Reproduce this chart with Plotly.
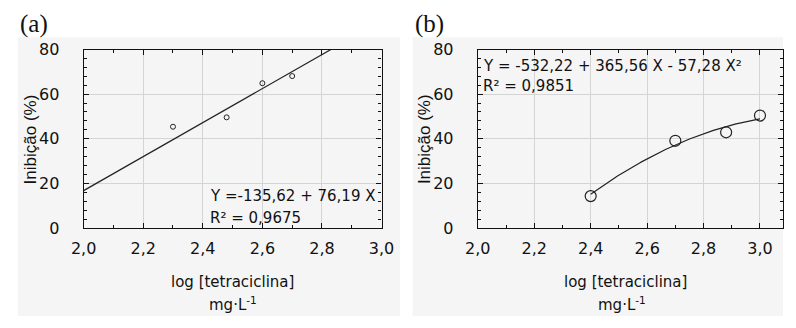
import numpy as np
import plotly.graph_objects as go

# Panel (a) data
xa = [2.30, 2.48, 2.60, 2.70]
ya = [45.4, 49.6, 64.9, 68.1]
coef_a = [-135.62, 76.19]          # Y = a0 + a1 X
# Panel (b) data
xb = [2.40, 2.70, 2.88, 3.00]
yb = [14.3, 39.1, 42.9, 50.4]
coef_b = [-532.22, 365.56, -57.28]  # Y = b0 + b1 X + b2 X^2

xticks = [2.0, 2.2, 2.4, 2.6, 2.8, 3.0]
xtick_labels = ["2,0", "2,2", "2,4", "2,6", "2,8", "3,0"]
yticks = [0, 20, 40, 60, 80]

eq_a = ["Y =-135,62 + 76,19 X", "R² = 0,9675"]
eq_b = ["Y = -532,22 + 365,56 X - 57,28 X²", "R² = 0,9851"]
xtitle = "log [tetraciclina]"
xunit = "mg·L<sup>-1</sup>"
ytitle = "Inibição (%)"

W, H = 796, 328
fig = go.Figure()

# fit lines
xl = np.linspace(2.0, 3.0, 201)
yl = coef_a[0] + coef_a[1] * xl
fig.add_trace(go.Scatter(x=xl, y=yl, mode="lines", line=dict(color="#222", width=1.2),
                         xaxis="x", yaxis="y", showlegend=False, hoverinfo="skip"))
xq = np.linspace(min(xb), max(xb), 121)
yq = coef_b[0] + coef_b[1] * xq + coef_b[2] * xq ** 2
fig.add_trace(go.Scatter(x=xq, y=yq, mode="lines", line=dict(color="#222", width=1.2),
                         xaxis="x2", yaxis="y2", showlegend=False, hoverinfo="skip"))
# points
fig.add_trace(go.Scatter(x=xa, y=ya, mode="markers",
                         marker=dict(symbol="circle-open", size=5, color="#222", line=dict(width=1)),
                         xaxis="x", yaxis="y", showlegend=False))
fig.add_trace(go.Scatter(x=xb, y=yb, mode="markers",
                         marker=dict(symbol="circle-open", size=11, color="#222", line=dict(width=1.2)),
                         xaxis="x2", yaxis="y2", showlegend=False))

def px_x(p):
    return p / W

def px_y(p):
    return 1 - p / H

tickfont = dict(family="DejaVu Sans", size=16, color="#111")
common_x = dict(tickvals=xticks, ticktext=xtick_labels, showgrid=True, gridcolor="#d4d4d4",
                gridwidth=1, zeroline=False, showline=True, linecolor="#111", linewidth=1.2,
                mirror="ticks", ticks="inside", ticklen=5, tickcolor="#111", tickfont=tickfont,
                ticklabelstandoff=6,
                minor=dict(dtick=0.1, ticks="inside", ticklen=3, tickcolor="#111", showgrid=False),
                fixedrange=True)
common_y = dict(tickvals=yticks, range=[0, 80], showgrid=True, gridcolor="#d4d4d4", gridwidth=1,
                zeroline=False, showline=True, linecolor="#111", linewidth=1.2, mirror="ticks",
                ticks="inside", ticklen=5, tickcolor="#111", tickfont=tickfont,
                ticklabelstandoff=20,
                minor=dict(dtick=4, ticks="inside", ticklen=3, tickcolor="#111", showgrid=False),
                fixedrange=True)

ytop, ybot = px_y(43), px_y(232.5)
fig.update_layout(
    width=W, height=H, margin=dict(l=0, r=0, t=0, b=0),
    paper_bgcolor="white", plot_bgcolor="white", showlegend=False,
    xaxis=dict(domain=[px_x(73), px_x(381)], range=[2.0, 3.0], anchor="y", **common_x),
    yaxis=dict(domain=[ybot, ytop], anchor="x", **common_y),
    xaxis2=dict(domain=[px_x(480.5), 1.0], range=[2.0, 2.0 + (796 - 480.5) / 291.7 * 1.0], anchor="y2", **common_x),
    yaxis2=dict(domain=[ybot, ytop], anchor="x2", **common_y),
)

# grey panel backgrounds
for x0, x1 in [(5, 400), (413, 796)]:
    fig.add_shape(type="rect", xref="paper", yref="paper", x0=px_x(x0), x1=px_x(x1),
                  y0=px_y(326), y1=px_y(30), fillcolor="#f5f5f5", line=dict(width=0), layer="below")

ann = []
txt = dict(family="DejaVu Sans", size=15, color="#111")
# panel labels
ann.append(dict(text="(a)", x=px_x(5), y=px_y(16), xanchor="left", yanchor="middle",
                font=dict(family="Liberation Serif", size=25, color="#111")))
ann.append(dict(text="(b)", x=px_x(413), y=px_y(16), xanchor="left", yanchor="middle",
                font=dict(family="Liberation Serif", size=25, color="#111")))
# axis titles
ann.append(dict(text=ytitle, x=px_x(18), y=px_y(138), textangle=-90, xanchor="center", yanchor="middle",
                font=dict(family="Liberation Sans", size=17, color="#111")))
ann.append(dict(text=ytitle, x=px_x(425), y=px_y(138), textangle=-90, xanchor="center", yanchor="middle",
                font=dict(family="Liberation Sans", size=17, color="#111")))
ann.append(dict(text=xtitle, x=px_x(227), y=px_y(290), xanchor="center", yanchor="middle", font=txt))
ann.append(dict(text=xunit, x=px_x(227), y=px_y(313), xanchor="center", yanchor="middle", font=txt))
ann.append(dict(text=xtitle, x=px_x(633), y=px_y(290), xanchor="center", yanchor="middle", font=txt))
ann.append(dict(text=xunit, x=px_x(630), y=px_y(313), xanchor="center", yanchor="middle", font=txt))
# equations
eqfont = dict(family="DejaVu Sans", size=15, color="#111")
ann.append(dict(text=eq_a[0], x=px_x(202), y=px_y(199), xanchor="left", yanchor="middle", font=eqfont))
ann.append(dict(text=eq_a[1], x=px_x(202), y=px_y(222), xanchor="left", yanchor="middle", font=eqfont))
ann.append(dict(text=eq_b[0], x=px_x(484), y=px_y(60), xanchor="left", yanchor="middle", font=eqfont))
ann.append(dict(text=eq_b[1], x=px_x(484), y=px_y(82), xanchor="left", yanchor="middle", font=eqfont))
for a in ann:
    a.update(xref="paper", yref="paper", showarrow=False)
fig.update_layout(annotations=ann)

fig.write_html("out.html")
